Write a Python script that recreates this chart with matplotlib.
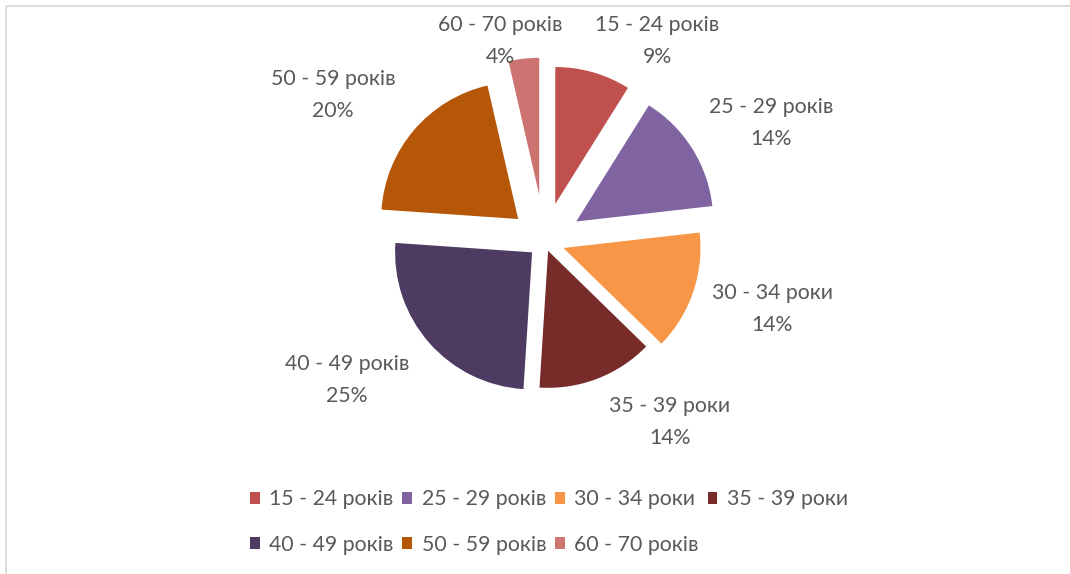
import matplotlib
matplotlib.use("Agg")
import matplotlib.pyplot as plt
from matplotlib.patches import Patch

# ---- data ----
categories = ["15 - 24 років", "25 - 29 років", "30 - 34 роки", "35 - 39 роки",
              "40 - 49 років", "50 - 59 років", "60 - 70 років"]
shares = [8.9, 14.3, 14.1, 13.7, 25.1, 20.3, 3.6]
colors = ["#C0504D", "#8064A2", "#F79646", "#772C2A", "#4D3B62", "#B65708", "#CD7371"]

# ---- layout (pixel space, y measured from top) ----
W, H = 1070, 574
center_img = (544.5, 241.5)
radius = 137
explode_px = [39, 37.5, 20, 10, 16.5, 34.6, 47]
label_pos_img = [(657, 41), (771, 123), (772, 309), (670, 422),
                 (347, 380), (333, 95), (500, 41)]
TEXT_COLOR = "#595959"
FAMILY = ["Lato", "DejaVu Sans"]

fig = plt.figure(figsize=(W / 100, H / 100), dpi=100)
ax = fig.add_axes([0, 0, 1, 1])

# fit font size so that a label is ~125 px wide (as in reference)
renderer = fig.canvas.get_renderer()
probe = fig.text(0, 0, "15 - 24 років", fontsize=10, family=FAMILY)
w = probe.get_window_extent(renderer).width
probe.remove()
fs = 10 * 125 / w

cx, cy = center_img[0], H - center_img[1]
wedges, _ = ax.pie(shares, colors=colors, startangle=90, counterclock=False,
                   center=(cx, cy), radius=radius, explode=explode_px,
                   wedgeprops=dict(linewidth=0))

total = sum(shares)
for name, v, (lx, ly) in zip(categories, shares, label_pos_img):
    ax.text(lx, H - ly, f"{name}\n{round(v / total * 100)}%", ha="center", va="center",
            fontsize=fs, color=TEXT_COLOR, family=FAMILY, linespacing=1.7)

ax.set_xlim(0, W)
ax.set_ylim(0, H)
ax.set_aspect("auto")
ax.axis("off")

# border (light gray frame, cropped on right/bottom)
ax.plot([6, W], [H - 6, H - 6], color="#D9D9D9", lw=1.3, solid_capstyle="butt")
ax.plot([6, 6], [H - 6, 0], color="#D9D9D9", lw=1.3, solid_capstyle="butt")

# legend: row-major order in 4 columns
handles = [Patch(facecolor=c, edgecolor="none") for c in colors]
order = [0, 4, 1, 5, 2, 6, 3]
leg = ax.legend([handles[i] for i in order], [categories[i] for i in order],
                ncol=4, loc="center", bbox_to_anchor=(549, H - 522),
                bbox_transform=ax.transData, frameon=False,
                prop=dict(family=FAMILY, size=fs),
                handlelength=0.45, handleheight=0.45, handletextpad=0.45,
                columnspacing=0.42, labelspacing=1.18, borderpad=0)
for t in leg.get_texts():
    t.set_color(TEXT_COLOR)

fig.savefig("out.png", dpi=100, facecolor="white")
